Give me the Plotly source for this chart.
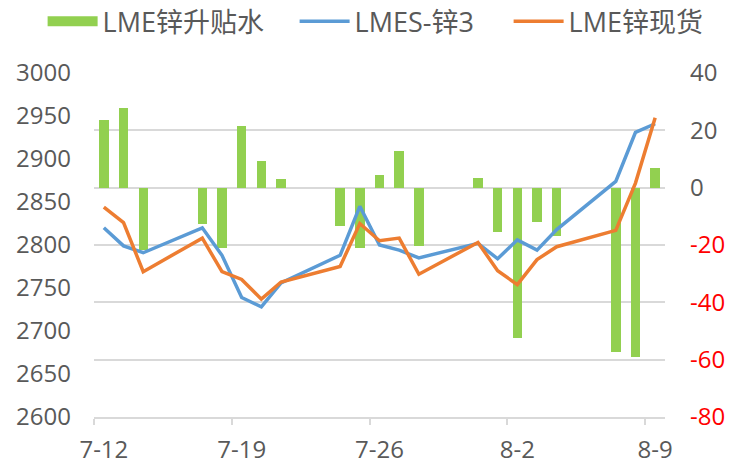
import plotly.graph_objects as go
import pandas as pd

dates = ["2023-07-12", "2023-07-13", "2023-07-14", "2023-07-17", "2023-07-18", "2023-07-19",
         "2023-07-20", "2023-07-21", "2023-07-24", "2023-07-25", "2023-07-26", "2023-07-27",
         "2023-07-28", "2023-07-31", "2023-08-01", "2023-08-02", "2023-08-03", "2023-08-04",
         "2023-08-07", "2023-08-08", "2023-08-09"]
spread = [23.5, 27.7, -21.7, -12.8, -21.2, 21.5, 9.3, 2.9, -13.3, -20.9, 4.5, 12.8,
          -20.3, 3.3, -15.4, -52.3, -11.9, -16.8, -57.3, -59.0, 6.8]
lmes3 = [2820, 2799, 2791, 2820, 2788, 2739, 2728, 2756, 2788, 2845, 2800, 2794,
         2785, 2802, 2784, 2806, 2794, 2818, 2874, 2931, 2941]
spot = [2844, 2826, 2769, 2808, 2769, 2760, 2737, 2757, 2775, 2825, 2805, 2808,
        2766, 2803, 2770, 2754, 2783, 2798, 2817, 2872, 2948]
tick_dates = ["2023-07-12", "2023-07-19", "2023-07-26", "2023-08-02", "2023-08-09"]
tick_text = ["7-12", "7-19", "7-26", "8-2", "8-9"]
left_ticks = [2600, 2650, 2700, 2750, 2800, 2850, 2900, 2950, 3000]
right_ticks = [-80, -60, -40, -20, 0, 20, 40]

GREEN = "#92d050"
BLUE = "#5b9bd5"
ORANGE = "#ed7d31"
GRID = "#d9d9d9"
TXT = "#595959"
FONT = "Open Sans, Noto Sans CJK SC, sans-serif"
FS = 24

half = pd.Timedelta(hours=12)
tick_dt = pd.to_datetime(tick_dates)
bounds = [d - half for d in tick_dt]
xrange = [pd.to_datetime(dates[0]) - half, pd.to_datetime(dates[-1]) + half]

fig = go.Figure()
# bars on primary axis (right side), lines on overlaying axis (left side) so lines draw on top
fig.add_trace(go.Bar(x=pd.to_datetime(dates), y=spread, name="LME锌升贴水",
                     marker=dict(color=GREEN, line=dict(width=0)),
                     width=0.48 * 86400000, yaxis="y", showlegend=False))
fig.add_trace(go.Scatter(x=[None], y=[None], mode="lines", name="LME锌升贴水",
                         line=dict(color=GREEN, width=10), yaxis="y2", legendwidth=187))
fig.add_trace(go.Scatter(x=pd.to_datetime(dates), y=lmes3, mode="lines", name="LMES-锌3",
                         line=dict(color=BLUE, width=3.5), yaxis="y2", legendwidth=149))
fig.add_trace(go.Scatter(x=pd.to_datetime(dates), y=spot, mode="lines", name="LME锌现货",
                         line=dict(color=ORANGE, width=3.5), yaxis="y2", legendwidth=137))

right_text = [(f'<span style="color:#ff0000">{v}</span>' if v < 0 else str(v)) for v in right_ticks]

fig.update_layout(
    width=743, height=465,
    margin=dict(l=94, r=78, t=73, b=48, autoexpand=False),
    paper_bgcolor="white", plot_bgcolor="white",
    font=dict(family=FONT, size=FS, color=TXT),
    bargap=0,
    showlegend=True,
    legend=dict(orientation="h", xref="paper", yref="paper", x=-0.090, y=1.149,
                xanchor="left", yanchor="middle", font=dict(size=27, color=TXT),
                itemwidth=50, bgcolor="rgba(0,0,0,0)", traceorder="normal",
                borderwidth=0),
    xaxis=dict(type="date", range=xrange, showgrid=False, zeroline=False,
               showline=True, linecolor=GRID, linewidth=1.5,
               tickmode="array", tickvals=tick_dt, ticktext=tick_text, ticks="",
               ticklabelstandoff=10,
               minor=dict(tickmode="array", tickvals=bounds, ticks="outside",
                          ticklen=6, tickwidth=1.5, tickcolor=GRID, showgrid=False),
               automargin=False, fixedrange=True),
    yaxis=dict(side="right", range=[-80, 40], tickmode="array", tickvals=right_ticks,
               ticktext=right_text, showgrid=True, gridcolor=GRID, gridwidth=1.5,
               zeroline=False, showline=False, ticks="", ticklabelstandoff=24,
               automargin=False),
    yaxis2=dict(side="left", overlaying="y", range=[2600, 3000], tickmode="array",
                tickvals=left_ticks, showgrid=False, zeroline=False, showline=False,
                ticks="", ticklabelstandoff=22, automargin=False),
)

fig.write_html("out.html", post_script="document.body.style.margin='0';",
               config={"displayModeBar": False})
